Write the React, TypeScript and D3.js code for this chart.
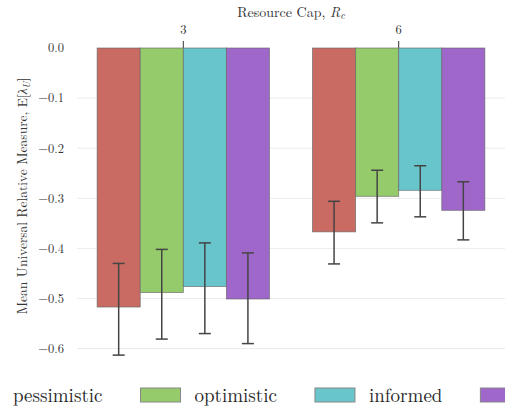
import React, { useEffect, useRef } from 'react';
import * as d3 from 'd3';

// Resource cap groups and strategy series
const caps = ['3', '6'];
const strategies = ['pessimistic', 'optimistic', 'informed', 'adaptive'];
const colors = ['#c96b63', '#95cb6a', '#67c5cb', '#a067ca'];

// mean E[lambda_U] per strategy, one value per cap
const meanValues = [
  [-0.517, -0.367],
  [-0.488, -0.296],
  [-0.476, -0.284],
  [-0.501, -0.324],
];
// error bar bounds
const lowValues = [
  [-0.613, -0.431],
  [-0.581, -0.349],
  [-0.570, -0.337],
  [-0.590, -0.383],
];
const highValues = [
  [-0.430, -0.306],
  [-0.402, -0.244],
  [-0.389, -0.235],
  [-0.409, -0.267],
];
const yTicks = [0, -0.1, -0.2, -0.3, -0.4, -0.5, -0.6];

const W = 505, H = 412;
const FONT = '"Latin Modern Roman", "Liberation Serif", serif';
const ff = { fontFamily: FONT };

const App: React.FC = () => {
  const legendRef = useRef<SVGGElement>(null);

  const x = d3.scaleBand<string>().domain(caps).range([75.6, 506.4]).padding(0);
  const bw = x.bandwidth();
  const inner = d3.scaleBand<string>().domain(strategies).range([bw * 0.1, bw * 0.9]).padding(0);
  const y = d3.scaleLinear().domain([0, -0.65]).range([48, 48 + 0.65 * 501]);
  const fmt = (v: number) => (v === 0 ? '0.0' : '\u2212' + Math.abs(v).toFixed(1));

  useEffect(() => {
    if (!legendRef.current) return;
    const g = d3.select(legendRef.current);
    g.selectAll('*').remove();
    const sw = 40, sh = 14, gap = 14, between = 38;
    // legend is wider than the figure; first label starts near the left edge
    let cx = 13 - gap - sw;
    strategies.forEach((s, i) => {
      g.append('rect')
        .attr('x', cx).attr('y', 388)
        .attr('width', sw).attr('height', sh)
        .attr('fill', colors[i])
        .attr('stroke', '#888').attr('stroke-width', 1);
      const t = g.append('text')
        .style('font-family', FONT)
        .attr('font-size', 19)
        .attr('fill', '#262626')
        .attr('x', cx + sw + gap).attr('y', 402)
        .text(s);
      const w = (t.node() as SVGTextElement).getComputedTextLength();
      cx += sw + gap + w + between;
    });
  }, []);

  return (
    <svg width={W} height={H} style={{ position: 'absolute', left: 0, top: 0, background: '#fff' }}>
      {/* grid */}
      {yTicks.filter((t) => t !== 0).map((t) => (
        <line key={t} x1={77} x2={W} y1={y(t)} y2={y(t)} stroke="#ebebeb" strokeWidth={1} />
      ))}
      {/* y tick labels */}
      {yTicks.map((t) => (
        <text key={t} x={64} y={y(t)} dy="0.35em" textAnchor="end"
              style={ff} fontSize={12.5} fill="#333">{fmt(t)}</text>
      ))}
      {/* y label */}
      <text transform="translate(22,196) rotate(-90)" textAnchor="middle" dy="0.35em"
            style={ff} fontSize={13.5} fill="#333">
        Mean Universal Relative Measure, E[<tspan fontStyle="italic">λ</tspan>
        <tspan fontStyle="italic" fontSize={9.5} dy="3">U</tspan><tspan dy="-3">]</tspan>
      </text>
      {/* top axis */}
      <text x={291} y={17} textAnchor="middle" style={ff} fontSize={14} fill="#333">
        Resource Cap, <tspan fontStyle="italic">R</tspan>
        <tspan fontStyle="italic" fontSize={10} dy="2">c</tspan>
      </text>
      {caps.map((c) => (
        <g key={c}>
          <text x={x(c)! + bw / 2} y={34} textAnchor="middle" style={ff} fontSize={12.5} fill="#333">{c}</text>
          <line x1={x(c)! + bw / 2} x2={x(c)! + bw / 2} y1={41} y2={48} stroke="#333" strokeWidth={1} />
        </g>
      ))}
      {/* bars */}
      {strategies.map((s, i) =>
        caps.map((c, j) => (
          <rect key={s + c}
                x={x(c)! + inner(s)!} y={y(0)}
                width={inner.bandwidth()} height={y(meanValues[i][j]) - y(0)}
                fill={colors[i]} stroke="#666" strokeWidth={0.8} strokeOpacity={0.8} />
        ))
      )}
      {/* error bars */}
      {strategies.map((s, i) =>
        caps.map((c, j) => {
          const cx = x(c)! + inner(s)! + inner.bandwidth() / 2;
          return (
            <g key={'e' + s + c} stroke="#444" strokeWidth={1.5}>
              <line x1={cx} x2={cx} y1={y(highValues[i][j])} y2={y(lowValues[i][j])} />
              <line x1={cx - 6} x2={cx + 6} y1={y(highValues[i][j])} y2={y(highValues[i][j])} />
              <line x1={cx - 6} x2={cx + 6} y1={y(lowValues[i][j])} y2={y(lowValues[i][j])} />
            </g>
          );
        })
      )}
      <g ref={legendRef} />
    </svg>
  );
};

export default App;
